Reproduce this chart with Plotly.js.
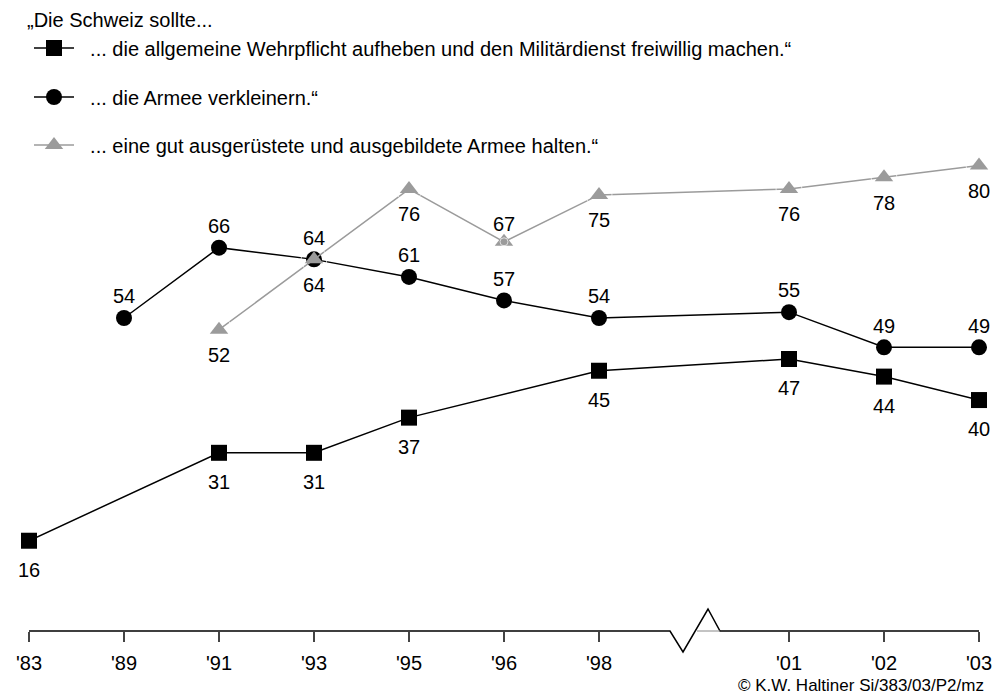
<!DOCTYPE html>
<html>
<head>
<meta charset="utf-8">
<script src="https://cdn.plot.ly/plotly-3.0.1.min.js"></script>
<style>html,body{margin:0;padding:0;background:#fff;}</style>
</head>
<body>
<div id="chart" style="width:994px;height:697px;"></div>
<script>
// Category axis (blank slot marks the axis break between '98 and '01)
const categories = ["'83", "'89", "'91", "'93", "'95", "'96", "'98", " ", "'01", "'02", "'03"];
const tickYears = ["'83", "'89", "'91", "'93", "'95", "'96", "'98", "'01", "'02", "'03"];

// Series 1: allgemeine Wehrpflicht aufheben
const yearsWehrpflicht = ["'83", "'91", "'93", "'95", "'98", "'01", "'02", "'03"];
const valuesWehrpflicht = [16, 31, 31, 37, 45, 47, 44, 40];

// Series 2: Armee verkleinern
const yearsVerkleinern = ["'89", "'91", "'93", "'95", "'96", "'98", "'01", "'02", "'03"];
const valuesVerkleinern = [54, 66, 64, 61, 57, 54, 55, 49, 49];

// Series 3: gut ausgerüstete Armee halten
const yearsArmee = ["'91", "'93", "'95", "'96", "'98", "'01", "'02", "'03"];
const valuesArmee = [52, 64, 76, 67, 75, 76, 78, 80];

const seriesNames = [
  "... die allgemeine Wehrpflicht aufheben und den Militärdienst freiwillig machen.\u201C",
  "... die Armee verkleinern.\u201C",
  "... eine gut ausgerüstete und ausgebildete Armee halten.\u201C"
];
const titleText = "\u201EDie Schweiz sollte...";
const sourceText = "© K.W. Haltiner Si/383/03/P2/mz";

const FONT = "Liberation Sans, Arial, sans-serif";
const LABEL_SIZE = 20;
const GRAY = "#9b9b9b";
const NB = "\u00A0\u00A0";

function lineTrace(x, y, name, color, symbol, size, legendId) {
  return {
    x: x, y: y, name: NB + name, type: "scatter", mode: "lines+markers",
    line: {color: color, width: 1.5},
    marker: {symbol: symbol, size: size, color: color},
    cliponaxis: false, legend: legendId, hoverinfo: "skip"
  };
}
// invisible markers only set the distance of the value labels from the points
function labelTrace(x, y, pos, offsetSize) {
  return {
    x: x, y: y, type: "scatter", mode: "markers+text",
    text: y.map(String), textposition: pos,
    textfont: {family: FONT, size: LABEL_SIZE, color: "#000"},
    marker: {size: offsetSize, color: "rgba(0,0,0,0)"},
    cliponaxis: false, showlegend: false, hoverinfo: "skip"
  };
}

const armeePos = yearsArmee.map(y => y === "'96" ? "top center" : "bottom center");
const armeeOff = yearsArmee.map(y => y === "'96" ? 8 : 26);

const traces = [
  lineTrace(yearsWehrpflicht, valuesWehrpflicht, seriesNames[0], "#000", "square", 16, "legend"),
  lineTrace(yearsVerkleinern, valuesVerkleinern, seriesNames[1], "#000", "circle", 16, "legend2"),
  lineTrace(yearsArmee, valuesArmee, seriesNames[2], GRAY, "triangle-up", 16, "legend3"),
  labelTrace(yearsWehrpflicht, valuesWehrpflicht, "bottom center", 32),
  labelTrace(yearsVerkleinern, valuesVerkleinern, "top center", 14),
  labelTrace(yearsArmee, valuesArmee, armeePos, armeeOff)
];

// Plot area: x 29..979 px, y 148..631 px
const W = 950, H = 483;
const px = v => (v - 29) / W;
const py = v => (631 - v) / H;

function legendAt(yPx) {
  return {
    xref: "container", yref: "container",
    x: 29 / 994, y: 1 - yPx / 697, xanchor: "left", yanchor: "middle",
    bgcolor: "rgba(0,0,0,0)", borderwidth: 0,
    font: {family: FONT, size: 20, color: "#000"},
    itemwidth: 40
  };
}

const layout = {
  width: 994, height: 697,
  margin: {l: 29, r: 15, t: 148, b: 66, pad: 0, autoexpand: false},
  paper_bgcolor: "#fff", plot_bgcolor: "#fff",
  font: {family: FONT, color: "#000"},
  title: {
    text: titleText, xref: "container", yref: "container",
    x: 27 / 994, xanchor: "left", y: 1 - 20 / 697, yanchor: "middle",
    font: {family: FONT, size: 20, color: "#000"}
  },
  showlegend: true,
  legend: legendAt(48),
  legend2: legendAt(97),
  legend3: legendAt(145),
  xaxis: {
    type: "category", categoryorder: "array", categoryarray: categories,
    range: [0, categories.length - 1],
    tickmode: "array", tickvals: tickYears, ticktext: tickYears,
    tickangle: 0, ticklabelstandoff: 4,
    showline: false, showgrid: false, zeroline: false,
    ticks: "outside", ticklen: 10, tickwidth: 1.2, tickcolor: "#444",
    tickfont: {family: FONT, size: LABEL_SIZE, color: "#000"},
    fixedrange: true
  },
  yaxis: {
    visible: false, range: [0.6, 83], fixedrange: true,
    showgrid: false, zeroline: false
  },
  shapes: [
    {type: "path", xref: "paper", yref: "paper",
     path: `M${px(29)},${py(631)} L${px(670)},${py(631)} L${px(683)},${py(652)} L${px(708)},${py(609)} L${px(720)},${py(631)} L${px(979)},${py(631)}`,
     line: {color: "#000", width: 1.5}},
    {type: "line", xref: "paper", yref: "paper",
     x0: px(697), x1: px(720), y0: py(631), y1: py(631),
     line: {color: "#888", width: 1}}
  ],
  annotations: [
    {text: sourceText, xref: "paper", yref: "paper",
     x: px(986), y: py(685), xanchor: "right", yanchor: "middle",
     showarrow: false, font: {family: FONT, size: 17, color: "#000"}}
  ]
};

Plotly.newPlot("chart", traces, layout, {displayModeBar: false, staticPlot: true});
</script>
</body>
</html>
